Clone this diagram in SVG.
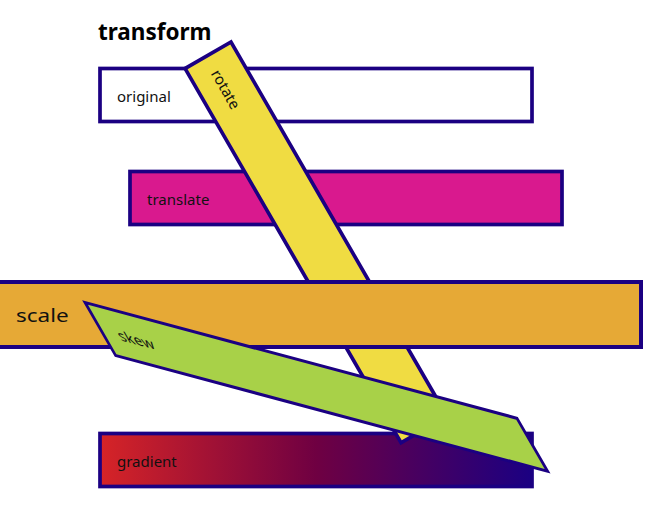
<svg xmlns="http://www.w3.org/2000/svg" width="651" height="506" viewBox="0 0 651 506">
<defs>
<linearGradient id="grad" x1="0" y1="0" x2="1" y2="0">
<stop offset="0" stop-color="#d62427"/>
<stop offset="0.5" stop-color="#6f0042"/>
<stop offset="1" stop-color="#1b0082"/>
</linearGradient>
<style>
.box{stroke:#1b0082;stroke-width:3.7}
.lbl{font-family:"Noto Sans","Open Sans","DejaVu Sans",sans-serif;font-size:15px;fill:#111}
.title{font-family:"Noto Sans","Open Sans","DejaVu Sans",sans-serif;font-size:22.5px;font-weight:bold;fill:#000}
</style>
</defs>
<rect width="651" height="506" fill="#fff"/>
<text class="title" x="98" y="40">transform</text>
<g id="original">
<rect class="box" x="100" y="68.5" width="432" height="53" fill="#fff"/>
<text class="lbl" x="117" y="102">original</text>
</g>
<g id="translate" transform="translate(30,103)">
<rect class="box" x="100" y="68.5" width="432" height="53" fill="#d9198e"/>
<text class="lbl" x="117" y="102">translate</text>
</g>
<g id="gradient" transform="translate(0,365)">
<rect class="box" x="100" y="68.5" width="432" height="53" fill="url(#grad)"/>
<text class="lbl" x="117" y="102">gradient</text>
</g>
<g id="rotate" transform="rotate(60,188.4,168.7)">
<rect class="box" x="100" y="68.5" width="432" height="53" fill="#f0dc42"/>
<text class="lbl" x="117" y="102">rotate</text>
</g>
<g id="scale">
<rect x="-10" y="282" width="651" height="65" fill="#e6a936" stroke="#1b0082" stroke-width="4"/>
<text class="lbl" transform="translate(16,322) scale(1.5,1.25)" x="0" y="0">scale</text>
</g>
<g id="skew" transform="matrix(1,0.268,0.577,1,-54.5,207.2)">
<rect class="box" x="100" y="68.5" width="432" height="53" fill="#a8d148"/>
<text class="lbl" x="117" y="102">skew</text>
</g>
<g id="connectors"/>
</svg>
